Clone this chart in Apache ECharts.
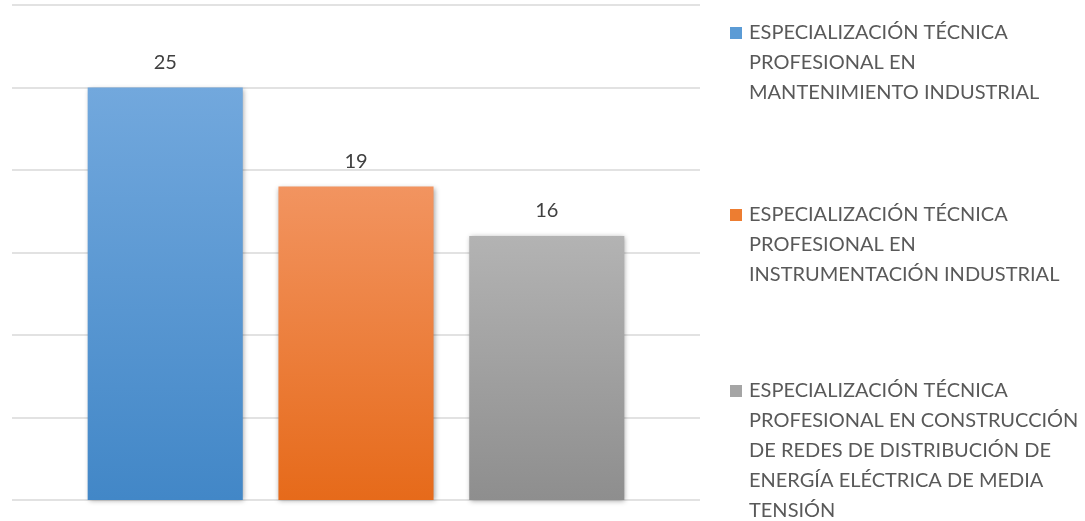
<!DOCTYPE html>
<html>
<head>
<meta charset="utf-8">
<script src="https://cdn.jsdelivr.net/npm/echarts@6/dist/echarts.min.js"></script>
<style>html,body{margin:0;padding:0;background:#fff;}#c{width:1085px;height:521px;}</style>
</head>
<body>
<div id="c"></div>
<script>
const categories = [''];
const seriesNames = [
  'ESPECIALIZACIÓN TÉCNICA PROFESIONAL EN MANTENIMIENTO INDUSTRIAL',
  'ESPECIALIZACIÓN TÉCNICA PROFESIONAL EN INSTRUMENTACIÓN INDUSTRIAL',
  'ESPECIALIZACIÓN TÉCNICA PROFESIONAL EN CONSTRUCCIÓN DE REDES DE DISTRIBUCIÓN DE ENERGÍA ELÉCTRICA DE MEDIA TENSIÓN'
];
const legendLines = [
  ['ESPECIALIZACIÓN TÉCNICA', 'PROFESIONAL EN', 'MANTENIMIENTO INDUSTRIAL'],
  ['ESPECIALIZACIÓN TÉCNICA', 'PROFESIONAL EN', 'INSTRUMENTACIÓN INDUSTRIAL'],
  ['ESPECIALIZACIÓN TÉCNICA', 'PROFESIONAL EN CONSTRUCCIÓN', 'DE REDES DE DISTRIBUCIÓN DE', 'ENERGÍA ELÉCTRICA DE MEDIA', 'TENSIÓN']
];
const values = [25, 19, 16];
const yTicks = { min: 0, max: 30, interval: 5 };

const topColors = ['#72A8DD', '#F29460', '#B3B3B3'];
const bottomColors = ['#4287C7', '#E66A1A', '#8E8E8E'];
const iconColors = ['#5B9BD5', '#ED7D31', '#A5A5A5'];
const legendTops = [18, 200, 376];
const FONT = 'Lato';

const chart = echarts.init(document.getElementById('c'), null, { renderer: 'canvas' });

const rich = {
  t: { fontFamily: FONT, fontSize: 20, color: '#595959', lineHeight: 30 },
  sp: { width: 12, height: 12 },
  gap: { width: 7, height: 12 }
};
iconColors.forEach((c, i) => { rich['sq' + i] = { width: 12, height: 12, backgroundColor: c }; });

const legends = seriesNames.map((n, i) => ({
  data: [n],
  left: 725,
  top: legendTops[i],
  icon: 'none',
  itemWidth: 0,
  itemHeight: 0,
  selectedMode: false,
  padding: 0,
  formatter: function (name) {
    const idx = seriesNames.indexOf(name);
    return legendLines[idx].map((l, j) => (j === 0 ? '{sq' + idx + '|}' : '{sp|}') + '{gap|}{t|' + l + '}').join('\n');
  },
  textStyle: { rich: rich, lineHeight: 30 }
}));

const series = seriesNames.map((n, i) => ({
  name: n,
  type: 'bar',
  data: [values[i]],
  barGap: '23%',
  barCategoryGap: '22%',
  itemStyle: {
    color: new echarts.graphic.LinearGradient(0, 0, 0, 1, [
      { offset: 0, color: topColors[i] },
      { offset: 1, color: bottomColors[i] }
    ]),
    shadowBlur: 5,
    shadowColor: 'rgba(0,0,0,0.35)',
    shadowOffsetX: 1,
    shadowOffsetY: 1
  },
  label: {
    show: true,
    position: 'top',
    distance: 15,
    fontFamily: FONT,
    fontSize: 20,
    color: '#404040'
  }
}));

chart.setOption({
  backgroundColor: '#fff',
  animation: false,
  grid: { left: 12, right: 385, top: 5, bottom: 21, containLabel: false },
  legend: legends,
  xAxis: {
    type: 'category',
    data: categories,
    axisLine: { show: false },
    axisTick: { show: false },
    axisLabel: { show: false }
  },
  yAxis: {
    type: 'value',
    min: yTicks.min,
    max: yTicks.max,
    interval: yTicks.interval,
    axisLine: { show: false },
    axisTick: { show: false },
    axisLabel: { show: false },
    splitLine: { lineStyle: { color: '#D9D9D9', width: 1.5 } }
  },
  series: series
});
</script>
</body>
</html>
